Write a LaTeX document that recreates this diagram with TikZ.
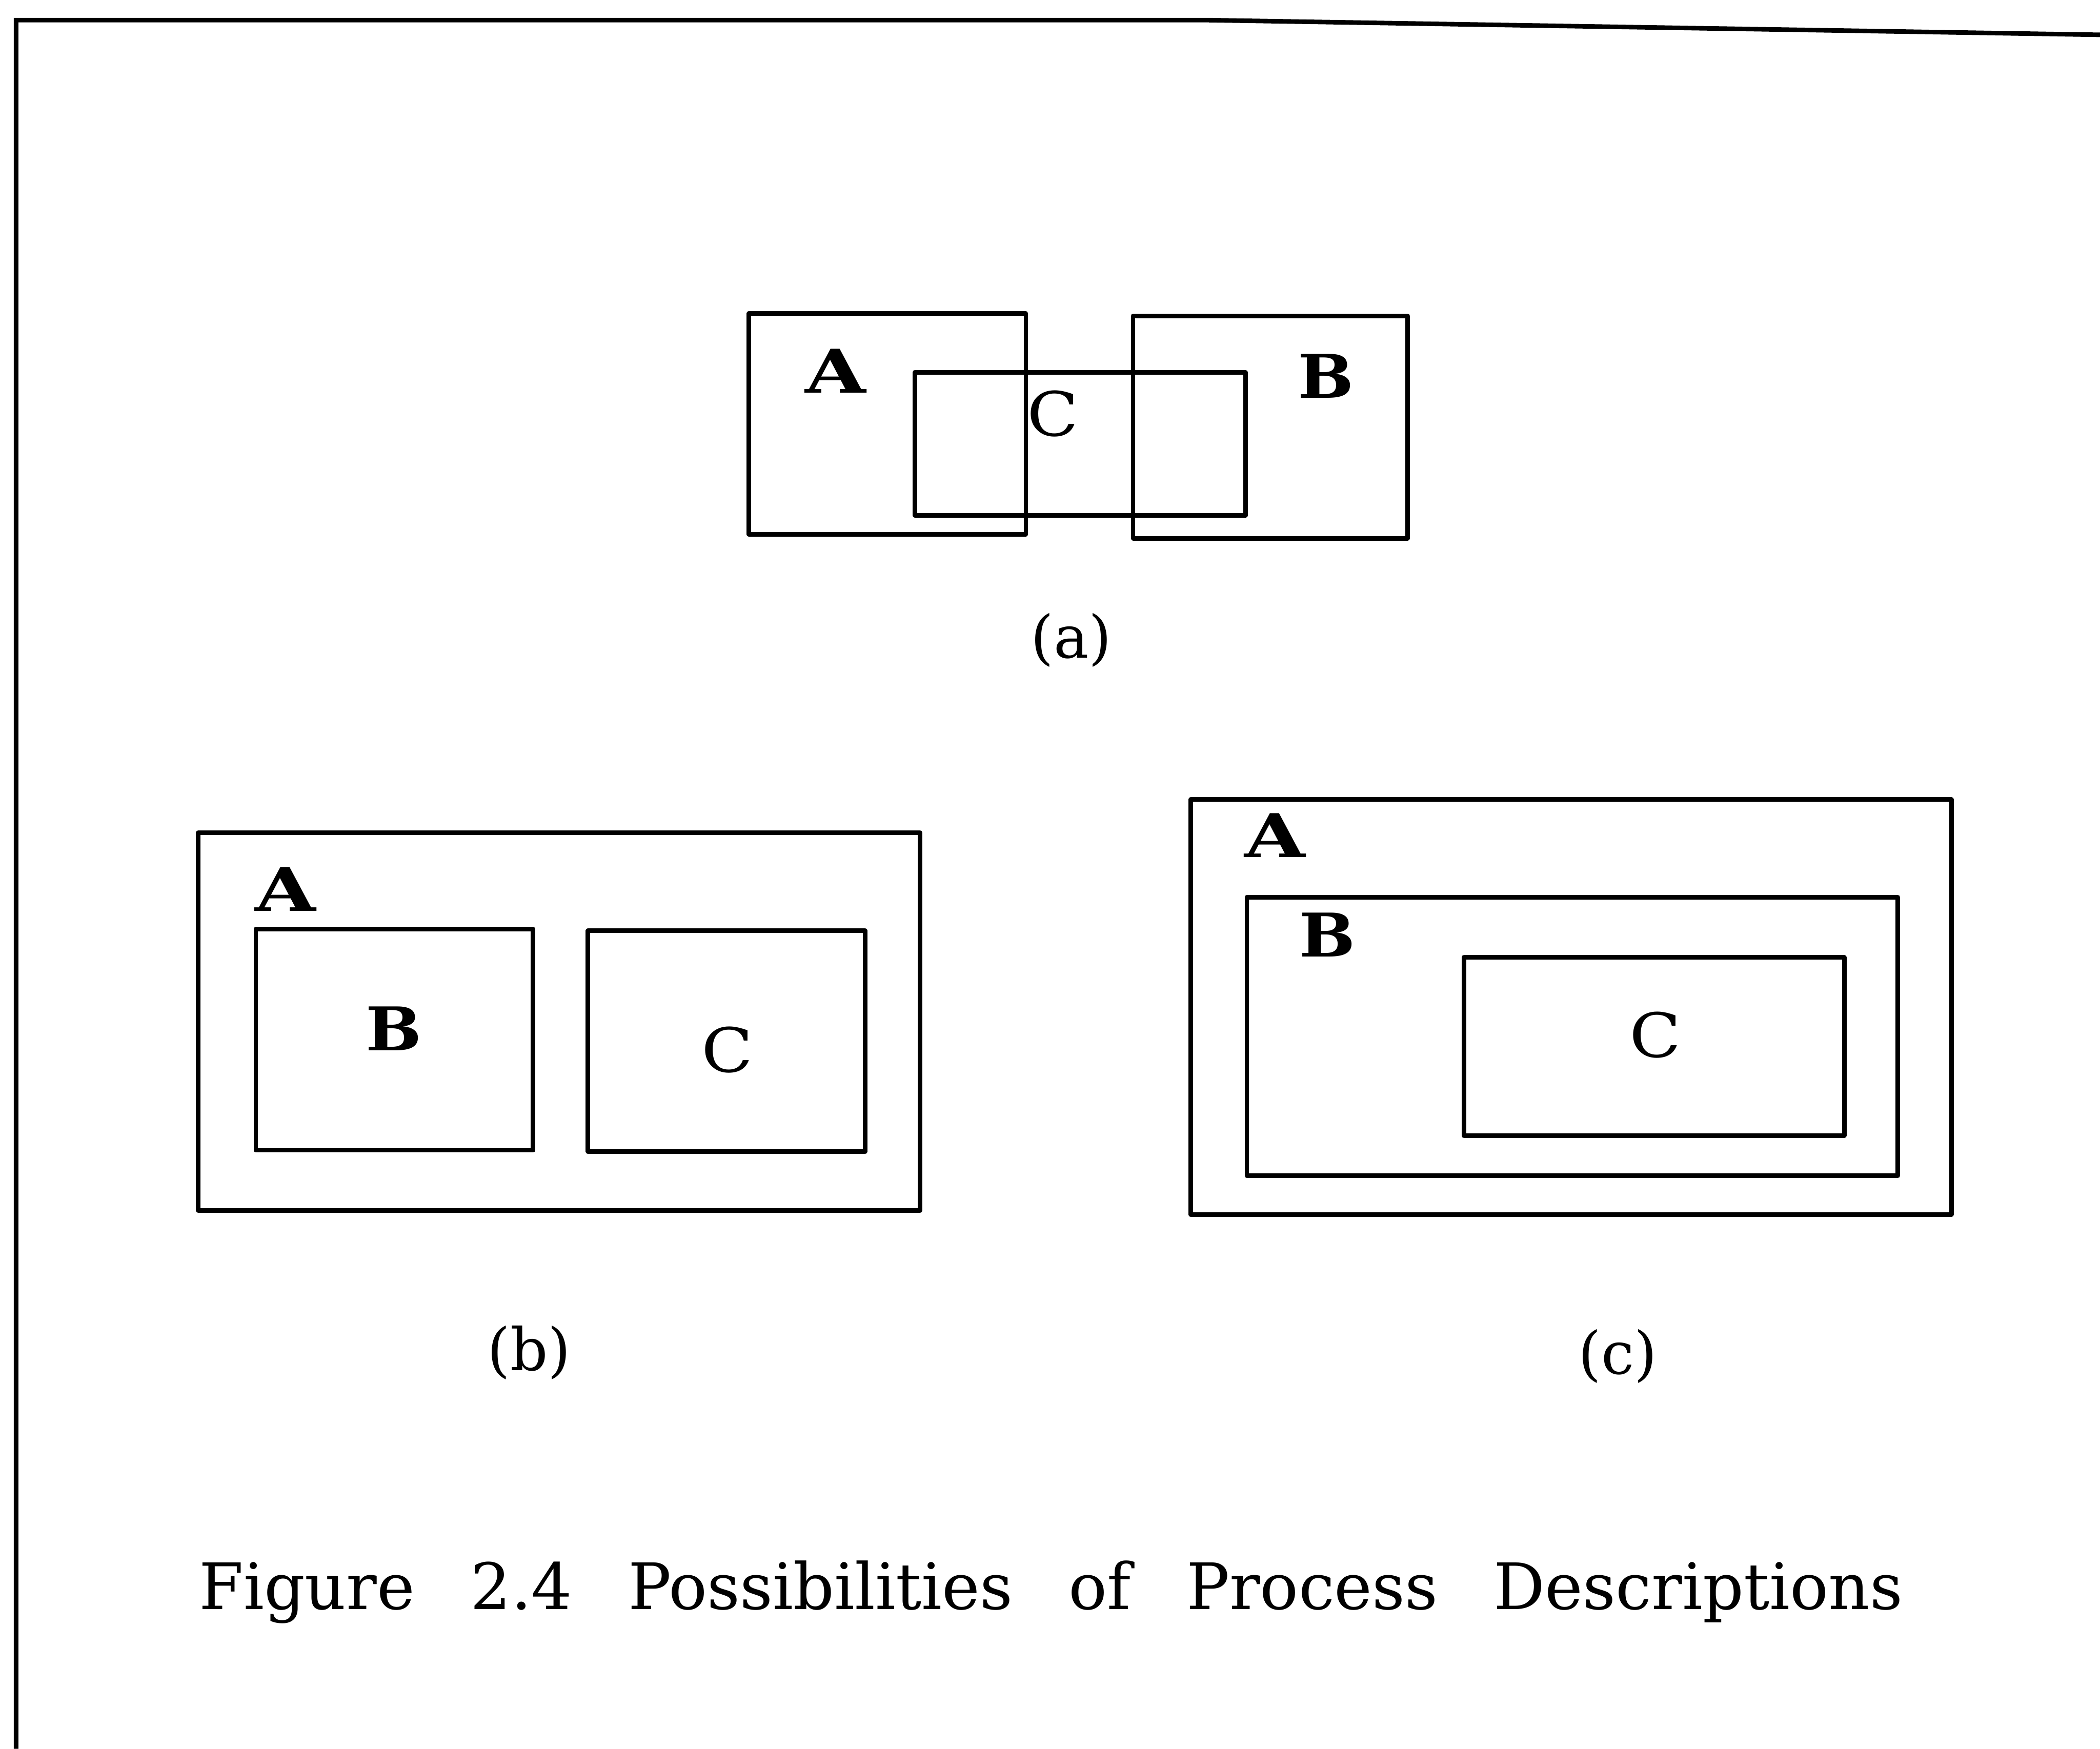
\documentclass[tikz,border=0pt]{standalone}
\usepackage{fontspec}
\setmainfont{DejaVu Serif}
\begin{document}
\begin{tikzpicture}[x=0.1mm,y=-0.1mm,
  box/.style={draw=black,line width=0.34mm,line join=round},
  framerule/.style={draw=black,line width=0.34mm},
  bigletter/.style={inner sep=0pt,font=\fontsize{12.8}{14}\selectfont\bfseries},
  thinletter/.style={inner sep=0pt,font=\fontsize{13}{14}\selectfont},
  sublabel/.style={inner sep=0pt,font=\fontsize{12.5}{14}\selectfont},
  captionstyle/.style={inner sep=0pt,anchor=base west,font=\fontsize{13.6}{15}\selectfont}]
\useasboundingbox (0,0) rectangle (1568,1306);
% page frame
\coordinate (f0) at (12,1306);
\coordinate (f1) at (12,15);
\coordinate (f2) at (900,15);
\coordinate (f3) at (1568,26);
\draw[framerule] (f0) -- (f1) -- (f2) -- (f3);
% (a)
\draw[box] (559,234) rectangle (766,399);
\draw[box] (846,236) rectangle (1051,402);
\draw[box] (683,278) rectangle (930,385);
\node[bigletter] (aA) at (624,277) {\scalebox{1.3}[1]{A}};
\node[bigletter] (aB) at (990,281) {\scalebox{1.1}[1]{B}};
\node[thinletter] (aC) at (786,309) {\scalebox{1.1}[1]{C}};
\node[sublabel] (la) at (800,478) {(a)};
% (b)
\draw[box] (148,622) rectangle (687,904);
\draw[box] (191,694) rectangle (398,859);
\draw[box] (439,695) rectangle (646,860);
\node[bigletter] (bA) at (213,664) {\scalebox{1.3}[1]{A}};
\node[bigletter] (bB) at (294,768) {\scalebox{1.1}[1]{B}};
\node[thinletter] (bC) at (543,784) {\scalebox{1.1}[1]{C}};
\node[sublabel] (lb) at (395,1010) {(b)};
% (c)
\draw[box] (889,597) rectangle (1457,907);
\draw[box] (931,670) rectangle (1417,878);
\draw[box] (1093,715) rectangle (1377,848);
\node[bigletter] (cA) at (952,624) {\scalebox{1.3}[1]{A}};
\node[bigletter] (cB) at (991,698) {\scalebox{1.1}[1]{B}};
\node[thinletter] (cC) at (1236,773) {\scalebox{1.1}[1]{C}};
\node[sublabel] (lc) at (1208,1013) {(c)};
% caption
\node[captionstyle] (cap) at (148,1202) {\makebox[127.2mm][s]{Figure 2.4 Possibilities of Process Descriptions}};
\end{tikzpicture}
\end{document}
